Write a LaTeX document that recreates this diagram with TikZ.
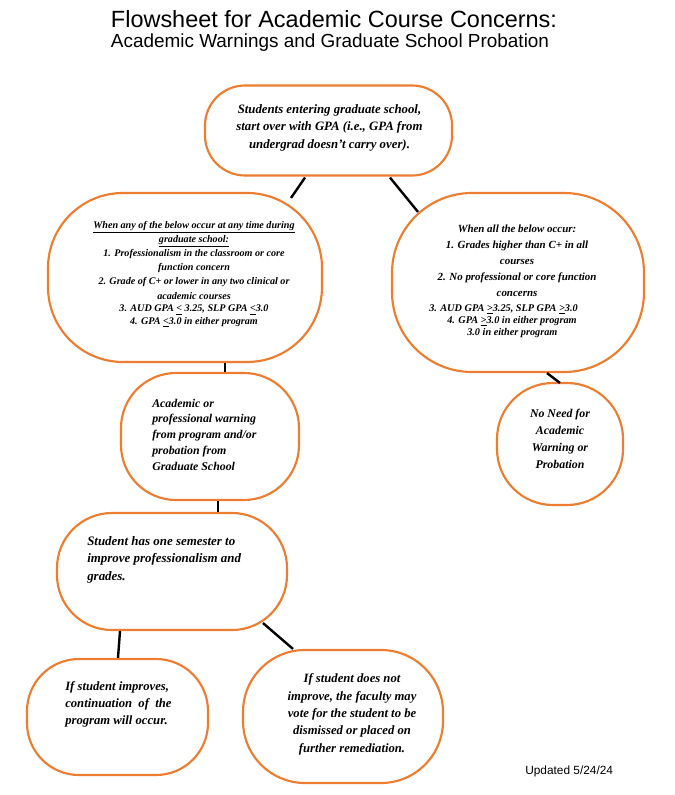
\documentclass[tikz,border=0pt]{standalone}
\usepackage{fontspec}
\setmainfont{Liberation Serif}
\newfontfamily\arialfont{Liberation Sans}
\usetikzlibrary{calc}
\definecolor{boxorange}{RGB}{237,125,49}
\tikzset{
  pbox/.style n args={3}{draw=boxorange, line width=1.6pt, fill=white,
    minimum width=#1*0.75pt, minimum height=#2*0.75pt,
    rounded corners=#3*0.75pt, inner sep=0pt},
  conn/.style={draw=black, line width=1.8pt},
  btext/.style={font=\fontsize{9.5pt}{13pt}\selectfont\bfseries\itshape, inner sep=0pt},
  stext/.style={font=\fontsize{7.6pt}{10.6pt}\selectfont\bfseries\itshape, inner sep=0pt},
}
\begin{document}
\begin{tikzpicture}[x=0.75pt,y=-0.75pt]
\useasboundingbox[fill=white] (0,0) rectangle (674,795);

% title
\node[font=\arialfont\fontsize{17.6pt}{19pt}\selectfont, inner sep=0pt] (title1) at (334,19) {Flowsheet for Academic Course Concerns:};
\node[font=\arialfont\fontsize{14.2pt}{16pt}\selectfont, inner sep=0pt] (title2) at (330,42.5) {Academic Warnings and Graduate School Probation};

% boxes
\node[pbox={247}{90}{40}] (top) at (328.5,130.5) {};
\node[pbox={274}{169}{75}] (left) at (185,277.5) {};
\node[pbox={252}{179}{80}] (right) at (518,282.5) {};
\node[pbox={178}{127}{55}] (mid) at (210,436.5) {};
\node[pbox={126}{122}{56}] (noneed) at (560,444) {};
\node[pbox={230}{117}{55}] (student) at (172,571.5) {};
\node[pbox={181}{116}{52}] (bl) at (117.5,717) {};
\node[pbox={200}{133}{62}] (br) at (343,716.5) {};

% texts
\node[btext, align=center, font=\fontsize{9.6pt}{13.1pt}\selectfont\bfseries\itshape] (ttop) at (329.5,127.5)
 {Students entering graduate school,\\ start over with GPA (i.e., GPA from\\ undergrad doesn't carry over).};

\node[stext, align=center] (tleft) at (194,274)
 {\underline{When any of the below occur at any time during}\\
  \underline{graduate school:}\\
  1. Professionalism in the classroom or core\\
  function concern\\
  2. Grade of C+ or lower in any two clinical or\\
  academic courses\\[-1pt]
  3. AUD GPA \underline{<} 3.25, SLP GPA \underline{<}3.0\\[-1.5pt]
  4. GPA \underline{<}3.0 in either program};

\node[stext, align=center, font=\fontsize{8.2pt}{12pt}\selectfont\bfseries\itshape] (trightA) at (517,260.5)
 {When all the below occur:\\
  1. Grades higher than C+ in all\\
  courses\\
  2. No professional or core function\\
  concerns};
\node[stext, align=left, anchor=west, font=\fontsize{7.7pt}{9pt}\selectfont\bfseries\itshape] (trightB) at (429,321)
 {3. AUD GPA \underline{>}3.25, SLP GPA \underline{>}3.0\\
  \hspace*{13.5pt}4. GPA \underline{>}3.0 in either program\\
  \hspace*{28.5pt}3.0 in either program};

\node[btext, align=left, anchor=west, font=\fontsize{8.9pt}{11.8pt}\selectfont\bfseries\itshape] (tmid) at (152,434.5)
 {Academic or\\ professional warning\\ from program and/or\\ probation from\\ Graduate School};

\node[btext, align=center, font=\fontsize{8.9pt}{12.75pt}\selectfont\bfseries\itshape] (tnoneed) at (560,438.5)
 {No Need for\\ Academic\\ Warning or\\ Probation};

\node[btext, align=left, anchor=west, font=\fontsize{9.7pt}{13.1pt}\selectfont\bfseries\itshape] (tstudent) at (87,559.5)
 {Student has one semester to\\ improve professionalism and\\ grades.};

\node[btext, align=left, anchor=west] (tbl) at (65,704.5)
 {If student improves,\\ continuation\ \ of\ \ the\\ program will occur.};

\node[btext, align=center] (tbr) at (352,714.5)
 {If student does not\\ improve, the faculty may\\ vote for the student to be\\ dismissed or placed on\\ further remediation.};

\node[font=\arialfont\fontsize{8.9pt}{10pt}\selectfont, inner sep=0pt, anchor=west] (updated) at (525,771) {Updated 5/24/24};

% connectors
\draw[conn] ($(top.south)+(-23.5,1)$) -- ($(left.north)+(106,6)$);
\draw[conn] ($(top.south)+(61.5,1)$) -- ($(right.north)+(-100,20)$);
\draw[conn] ($(left.south)+(40,0)$) -- ($(mid.north)+(15,0)$);
\draw[conn] ($(right.south)+(29,0)$) -- ($(noneed.north)+(0,1)$);
\draw[conn] ($(mid.south)+(8,0)$) -- ($(student.north)+(46,0)$);
\draw[conn] ($(student.south)+(-52,0)$) -- ($(bl.north)+(0.5,0)$);
\draw[conn] ($(student.south)+(91,-8)$) -- ($(br.north)+(-50,0)$);
\end{tikzpicture}
\end{document}
